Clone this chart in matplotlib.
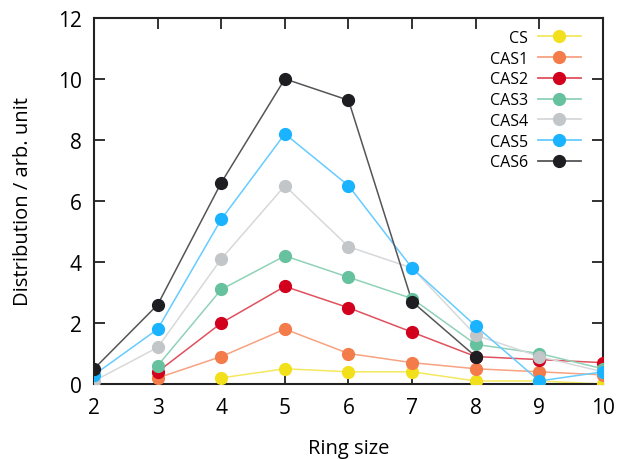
import numpy as np
import matplotlib
matplotlib.use("Agg")
import matplotlib.pyplot as plt

plt.rcParams['font.family'] = ['Open Sans', 'DejaVu Sans']

ring = [2, 3, 4, 5, 6, 7, 8, 9, 10]

cs   = [None, None, 0.2, 0.5, 0.4, 0.4, 0.1, 0.1, 0.0]
cas1 = [None, 0.2, 0.9, 1.8, 1.0, 0.7, 0.5, 0.4, 0.3]
cas2 = [None, 0.4, 2.0, 3.2, 2.5, 1.7, 0.9, 0.8, 0.7]
cas3 = [None, 0.6, 3.1, 4.2, 3.5, 2.8, 1.3, 1.0, 0.5]
cas4 = [0.1, 1.2, 4.1, 6.5, 4.5, 3.8, 1.6, 0.9, 0.4]
cas5 = [0.3, 1.8, 5.4, 8.2, 6.5, 3.8, 1.9, 0.1, 0.4]
cas6 = [0.5, 2.6, 6.6, 10.0, 9.3, 2.7, 0.9, None, None]

names = ['CS', 'CAS1', 'CAS2', 'CAS3', 'CAS4', 'CAS5', 'CAS6']
series = [cs, cas1, cas2, cas3, cas4, cas5, cas6]
colores = ['#f2e01c', '#f47b4a', '#d2001c', '#66c29e', '#c3c6c9', '#1ab3ff', '#1e1e22']
lineas = ['#f5e860', '#f7a280', '#e0505e', '#90d2b8', '#d6d8da', '#66ccff', '#555558']

fig = plt.figure(figsize=(6.19, 4.6), dpi=100)
ax = fig.add_axes([0.152, 0.163, 0.822, 0.796])

for nom, ys, c, cl in zip(names, series, colores, lineas):
    xs = [x for x, y in zip(ring, ys) if y is not None]
    yv = [y for y in ys if y is not None]
    ax.plot(xs, yv, '-', color=cl, lw=1.1, zorder=2)
    ax.plot(xs, yv, 'o', color=c, ms=8.5, zorder=3)
    ax.plot([], [], '-o', color=cl, mfc=c, mec=c, ms=8.5, lw=1.3, label=nom)

ax.set_xlim(2, 10)
ax.set_ylim(0, 12)
ax.set_xticks(ring)
ax.set_yticks(np.arange(0, 13, 2))
ax.tick_params(direction='in', length=8, width=1.3, top=True, right=True,
               labelsize=15, pad=9, colors='#222222')
ax.tick_params(axis='x', pad=9)
for s in ax.spines.values():
    s.set_linewidth(1.5)
    s.set_color('#222222')
for t in ax.get_xticklabels() + ax.get_yticklabels():
    t.set_color('black')

ax.set_xlabel('Ring size', fontsize=14.5, labelpad=15)
ax.set_ylabel('Distribution / arb. unit', fontsize=14.5, labelpad=18)

leg = ax.legend(loc='upper right', frameon=False, markerfirst=False, fontsize=11.5,
                handlelength=2.7, handletextpad=0.6, labelspacing=0.3,
                borderaxespad=0.0, bbox_to_anchor=(0.969, 0.985))
for t in leg.get_texts():
    t.set_ha('right')

fig.savefig('out.png', dpi=100)
